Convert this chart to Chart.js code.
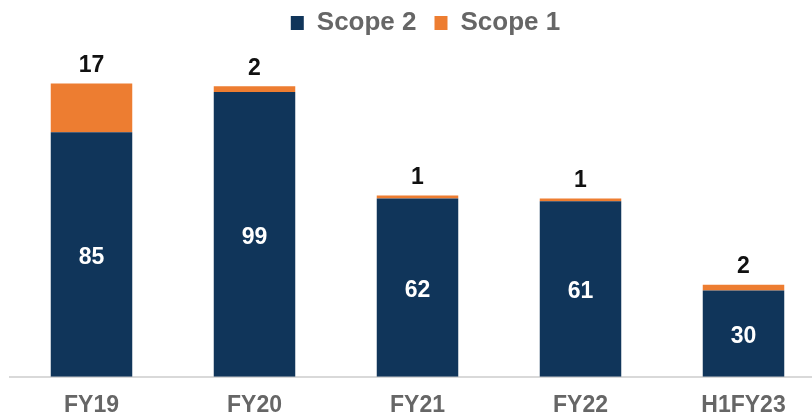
<!DOCTYPE html>
<html>
<head>
<meta charset="utf-8">
<script src="https://cdn.jsdelivr.net/npm/chart.js@4"></script>
<style>
  html, body { margin: 0; padding: 0; background: #fff; overflow: hidden; }
  #wrap { position: relative; width: 841px; height: 417px; }
</style>
</head>
<body>
<div id="wrap"><canvas id="emissionsChart"></canvas></div>
<script>
// chart values
const categories = ["FY19", "FY20", "FY21", "FY22", "H1FY23"];
const scope2 = [85, 99, 62, 61, 30];
const scope1 = [17, 2, 1, 1, 2];
const yMax = 115;

const NAVY = "#10355A";
const ORANGE = "#ED7D31";
const GREY = "#666666";

// draws the numbers on/above the bars
const barLabels = {
    id: "barLabels",
    afterDatasetsDraw(chart) {
        const ctx = chart.ctx;
        ctx.save();
        ctx.font = "bold 23px 'Liberation Sans', Arial, sans-serif";
        ctx.textAlign = "center";
        ctx.textBaseline = "middle";
        chart.getDatasetMeta(0).data.forEach((bar, i) => {
            ctx.fillStyle = "#ffffff";
            ctx.fillText(scope2[i], bar.x, (bar.y + bar.base) / 2 + 3);
        });
        chart.getDatasetMeta(1).data.forEach((bar, i) => {
            ctx.fillStyle = "#111111";
            ctx.fillText(scope1[i], bar.x, bar.y - 18);
        });
        ctx.restore();
    }
};

new Chart(document.getElementById("emissionsChart"), {
    type: "bar",
    data: {
        labels: categories,
        datasets: [
            { label: "Scope 2", data: scope2, backgroundColor: NAVY },
            { label: "Scope 1", data: scope1, backgroundColor: ORANGE }
        ]
    },
    options: {
        responsive: true,
        maintainAspectRatio: false,
        animation: false,
        layout: { padding: { left: 10, right: 0, top: -8, bottom: -17 } },
        datasets: { bar: { barPercentage: 0.5, categoryPercentage: 1 } },
        plugins: {
            legend: {
                position: "top",
                labels: {
                    boxWidth: 13,
                    boxHeight: 14,
                    padding: 18,
                    color: GREY,
                    font: { family: "'Liberation Sans', Arial, sans-serif", size: 26, weight: "bold" }
                }
            },
            tooltip: { enabled: false }
        },
        scales: {
            x: {
                stacked: true,
                grid: { display: false, drawTicks: false },
                border: { display: true, color: "#D9D9D9", width: 2 },
                ticks: {
                    padding: 16,
                    color: GREY,
                    font: { family: "'Liberation Sans', Arial, sans-serif", size: 23, weight: "bold", lineHeight: 1.1 }
                }
            },
            y: {
                stacked: true,
                min: 0,
                max: yMax,
                position: "right",
                grid: { display: false },
                border: { display: false },
                ticks: { display: false },
                afterFit: s => { s.width = 16; }
            }
        }
    },
    plugins: [barLabels]
});
</script>
</body>
</html>
